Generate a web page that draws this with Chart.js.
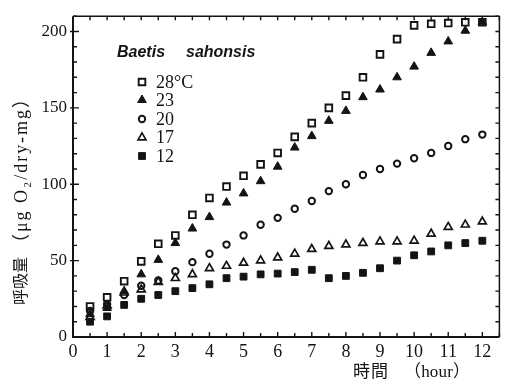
<!DOCTYPE html>
<html>
<head>
<meta charset="utf-8">
<script src="https://cdn.jsdelivr.net/npm/chart.js@4.4.1/dist/chart.umd.min.js"></script>
<style>
  html, body { margin: 0; padding: 0; background: #fff; }
  #wrap { width: 506px; height: 382px; }
</style>
</head>
<body>
<div id="wrap"><canvas id="c" width="506" height="382"></canvas></div>
<script>
// Oxygen consumption of Baetis sahonsis nymphs at five temperatures
const hours = [0.5, 1, 1.5, 2, 2.5, 3, 3.5, 4, 4.5, 5, 5.5, 6,
               6.5, 7, 7.5, 8, 8.5, 9, 9.5, 10, 10.5, 11, 11.5, 12];

const resp28 = [20, 26, 36.5, 49.5, 61, 66.5, 80, 91, 98.5, 105.5, 113, 120.5,
                131, 140, 150, 158, 170, 185, 195, 204, 205, 205.5, 206, 206];
const resp23 = [15, 19, 30, 41, 50.5, 61.5, 71, 78.5, 88, 94, 102, 111.5,
                124, 131.5, 141.5, 148, 157, 162, 170, 177, 186, 193.5, 200.5, 206];
const resp20 = [17, 21.5, 27.5, 33.5, 37, 43, 49, 54.5, 60.5, 66.5, 73.5, 78,
                84, 89, 95.5, 100, 106, 110, 113.5, 117, 120.5, 125, 129.5, 132.5];
const resp17 = [13, 20.5, 29, 31, 36, 38.5, 41, 45, 46.5, 48.5, 50, 52,
                54.5, 57.5, 59.5, 60.5, 61.5, 62.5, 62.5, 63, 67.5, 72, 73.5, 75.5];
const resp12 = [10, 13.5, 21, 25, 27.5, 30, 32, 34.5, 38.5, 39.5, 41, 41.5,
                42.5, 44, 38.5, 40, 42, 45, 50, 53.5, 56, 60, 61.5, 63];

const seriesLabels = ['28°C', '23', '20', '17', '12'];
const xTickValues = [0, 1, 2, 3, 4, 5, 6, 7, 8, 9, 10, 11, 12];
const yTickValues = [0, 50, 100, 150, 200];
const speciesWords = ['Baetis', 'sahonsis'];
const xTitleParts = ['時間', '（hour）'];
const yTitleParts = ['呼吸量', '（μg O₂/dry-mg）'];

const SERIF = '"Liberation Serif", "DejaVu Serif", "Noto Sans CJK JP", serif';
const INK = '#141414';

const allSeries = [resp28, resp23, resp20, resp17, resp12];
const markerStyles = [
  { pointStyle: 'rect',     radius: 4.7, open: true,  width: 1.9 },
  { pointStyle: 'triangle', radius: 5.0, open: false, width: 1.0 },
  { pointStyle: 'circle',   radius: 3.2, open: true,  width: 2.0 },
  { pointStyle: 'triangle', radius: 4.6, open: true,  width: 1.7 },
  { pointStyle: 'rect',     radius: 4.8, open: false, width: 1.0 }
];

const datasets = allSeries.map((vals, i) => {
  const m = markerStyles[i];
  return {
    label: seriesLabels[i],
    data: hours.map((h, k) => ({ x: h, y: vals[k] })),
    showLine: false,
    pointStyle: m.pointStyle,
    pointRadius: m.radius,
    pointHoverRadius: m.radius,
    pointBorderWidth: m.width,
    pointBorderColor: INK,
    pointBackgroundColor: m.open ? 'rgba(255,255,255,0)' : INK
  };
});

// Frame and inward minor ticks on all four sides
const framePlugin = {
  id: 'frame',
  beforeDatasetsDraw(chart) {
    const { ctx, chartArea: a, scales: { x, y } } = chart;
    ctx.save();
    ctx.strokeStyle = INK;
    ctx.lineCap = 'butt';
    ctx.lineWidth = 2;
    ctx.beginPath();
    ctx.moveTo(a.left, a.top); ctx.lineTo(a.left, a.bottom); ctx.lineTo(a.right, a.bottom);
    ctx.stroke();
    ctx.lineWidth = 1.5;
    ctx.beginPath();
    ctx.moveTo(a.left, a.top); ctx.lineTo(a.right, a.top);
    ctx.moveTo(a.right, a.top); ctx.lineTo(a.right, a.bottom);
    ctx.stroke();
    // half-hour ticks on top and bottom
    ctx.lineWidth = 1.4;
    ctx.beginPath();
    for (let t = 0.5; t <= x.max + 1e-9; t += 0.5) {
      const px = x.getPixelForValue(t);
      const len = Number.isInteger(t) ? 5 : 4;
      ctx.moveTo(px, a.bottom); ctx.lineTo(px, a.bottom - len);
      ctx.moveTo(px, a.top); ctx.lineTo(px, a.top + 4);
    }
    // ticks every 10 units on left and right
    for (let v = 10; v <= y.max + 1e-9; v += 10) {
      const py = y.getPixelForValue(v);
      const major = v % 50 === 0;
      ctx.moveTo(a.left - (major ? 3 : 0), py); ctx.lineTo(a.left + (major ? 6 : 4), py);
      ctx.moveTo(a.right, py); ctx.lineTo(a.right - 4, py);
    }
    ctx.stroke();
    ctx.restore();
  }
};

function spacedText(ctx, text, x, y, targetLen) {
  ctx.letterSpacing = '0px';
  const n = [...text].length;
  const w = ctx.measureText(text).width;
  const sp = n > 1 ? Math.max(0, (targetLen - w) / (n - 1)) : 0;
  ctx.letterSpacing = sp.toFixed(2) + 'px';
  ctx.fillText(text, x, y);
  ctx.letterSpacing = '0px';
}

// Legend block, species name and axis titles
const annotatePlugin = {
  id: 'annotate',
  afterDraw(chart) {
    const { ctx } = chart;
    ctx.save();
    ctx.fillStyle = INK;
    ctx.textBaseline = 'middle';
    ctx.textAlign = 'left';

    ctx.font = 'italic bold 16px "Liberation Sans", "DejaVu Sans", sans-serif';
    ctx.fillText(speciesWords[0], 117, 53);
    ctx.fillText(speciesWords[1], 186, 53);

    const rows = [82, 100, 119, 137.5, 156];
    chart.data.datasets.forEach((ds, i) => {
      const yy = rows[i];
      ctx.save();
      ctx.lineWidth = ds.pointBorderWidth;
      ctx.strokeStyle = ds.pointBorderColor;
      ctx.fillStyle = ds.pointBackgroundColor;
      Chart.helpers.drawPoint(ctx, {
        pointStyle: ds.pointStyle, radius: ds.pointRadius, rotation: 0,
        borderWidth: ds.pointBorderWidth
      }, 142, yy);
      ctx.restore();
      ctx.font = '18px ' + SERIF;
      ctx.fillText(ds.label, 156, yy + 1);
    });

    // x-axis title
    ctx.font = '17px ' + SERIF;
    spacedText(ctx, xTitleParts[0], 353, 373, 35);
    spacedText(ctx, xTitleParts[1], 404, 373, 66);

    // rotated y-axis title
    ctx.translate(22, 0);
    ctx.rotate(-Math.PI / 2);
    ctx.font = '16px ' + SERIF;
    spacedText(ctx, yTitleParts[0], -305, 0, 47);
    ctx.font = '18px ' + SERIF;
    spacedText(ctx, yTitleParts[1], -252, 0, 162);
    ctx.restore();
  }
};

new Chart(document.getElementById('c'), {
  type: 'scatter',
  data: { datasets },
  options: {
    responsive: false,
    animation: false,
    devicePixelRatio: 1,
    layout: { padding: { left: 0, top: 9, right: 1, bottom: 0 } },
    plugins: { legend: { display: false }, tooltip: { enabled: false } },
    scales: {
      x: {
        type: 'linear', min: 0, max: 12.5,
        afterBuildTicks: s => { s.ticks = xTickValues.map(v => ({ value: v })); },
        afterFit: s => { s.height = 45; },
        grid: { display: false, drawTicks: false },
        border: { display: false },
        ticks: {
          color: INK, padding: 4, maxRotation: 0, autoSkip: false,
          font: { family: SERIF, size: 18 }
        }
      },
      y: {
        type: 'linear', min: 0, max: 210,
        afterBuildTicks: s => { s.ticks = yTickValues.map(v => ({ value: v })); },
        afterFit: s => { s.width = 73; },
        grid: { display: false, drawTicks: false },
        border: { display: false },
        ticks: {
          color: INK, padding: 6, autoSkip: false,
          font: { family: SERIF, size: 17 }
        }
      }
    }
  },
  plugins: [framePlugin, annotatePlugin]
});
</script>
</body>
</html>
